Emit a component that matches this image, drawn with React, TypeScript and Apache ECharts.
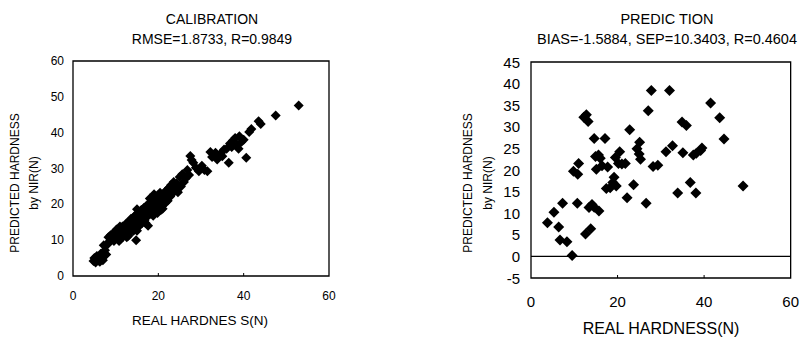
import React, { useEffect, useRef } from "react";
import * as echarts from "echarts";

const calTitle = "CALIBRATION";
const calSub = "RMSE=1.8733, R=0.9849";
const predTitle = "PREDIC TION";
const predSub = "BIAS=-1.5884, SEP=10.3403, R=0.4604";
const yName = "PREDICTED HARDNESS\nby NIR(N)";
const calXName = "REAL HARDNES S(N)";
const predXName = "REAL HARDNESS(N)";

// Calibration set: real hardness, predicted hardness
const calReal = [
  4.8, 5.0, 5.3, 5.6, 6.0, 6.3, 6.5, 6.8, 7.0, 7.2, 7.5, 7.8, 8.0, 8.3, 8.5, 8.8, 9.0, 9.3, 9.6, 9.9,
  10.0, 10.2, 10.5, 10.8, 11.0, 11.2, 11.5, 11.8, 12.0, 12.2, 12.4, 12.6, 12.8, 13.0, 13.2, 13.4, 13.6, 13.8, 14.0, 14.2,
  14.4, 14.6, 14.8, 15.0, 15.2, 15.4, 15.6, 15.8, 16.0, 16.2, 16.4, 16.6, 16.8, 17.0, 17.2, 17.4, 17.6, 17.8, 18.0, 18.2,
  18.4, 18.6, 18.8, 19.0, 19.2, 19.4, 19.6, 19.8, 20.0, 20.2, 20.4, 20.6, 20.8, 21.0, 21.3, 21.6, 21.9, 22.2, 22.5, 22.8,
  23.0, 23.3, 23.6, 24.0, 24.3, 24.6, 25.0, 25.3, 25.6, 26.0, 26.4, 26.8, 27.2, 27.5, 27.8, 28.2, 28.8, 29.5, 30.2, 30.8,
  31.5, 32.2, 32.6, 33.4, 33.8, 34.6, 35.0, 35.4, 36.0, 36.5, 36.8, 37.2, 37.5, 38.0, 38.5, 38.8, 39.0, 39.5, 40.0, 40.6,
  41.3, 41.8, 43.5, 44.0, 47.5, 52.9, 13.5, 14.5, 15.5, 16.5, 17.5, 18.5, 19.5, 20.5, 11.6, 12.5, 9.5, 8.2, 21.5, 22.0,
  11.0, 13.0, 15.0, 17.0, 19.0, 21.0, 18.0, 15.0
];
const calPred = [
  4.2, 5.0, 3.8, 5.6, 4.3, 4.0, 6.2, 5.0, 4.4, 8.6, 7.2, 6.0, 8.8, 10.8, 9.6, 11.4, 10.2, 11.8, 9.8, 12.2,
  10.6, 13.0, 11.4, 9.8, 12.0, 10.4, 12.8, 11.0, 13.6, 12.2, 14.6, 10.8, 13.2, 15.0, 12.0, 14.0, 16.0, 13.4, 15.2, 12.6,
  16.6, 14.4, 10.0, 17.0, 15.4, 13.8, 17.8, 16.2, 18.4, 14.8, 17.2, 19.0, 15.6, 18.0, 19.6, 16.6, 14.0, 18.8, 20.2, 17.4,
  21.0, 19.2, 16.8, 20.6, 22.0, 18.6, 21.4, 17.6, 22.6, 20.0, 23.2, 18.4, 21.6, 19.6, 22.4, 20.4, 23.6, 21.0, 24.6, 22.2,
  25.4, 23.0, 26.2, 24.4, 25.8, 23.4, 27.6, 25.0, 28.4, 26.2, 27.2, 29.6, 28.2, 33.5, 32.4, 31.6, 30.2, 29.2, 30.8, 29.6,
  29.2, 34.6, 33.2, 34.4, 32.5, 34.2, 33.4, 35.3, 35.5, 31.6, 37.0, 36.0, 37.8, 38.5, 36.5, 35.5, 39.0, 37.5, 38.0, 33.0,
  40.2, 41.0, 43.2, 42.4, 44.8, 47.6, 15.6, 16.8, 16.0, 18.0, 18.4, 19.8, 20.4, 21.8, 13.8, 14.0, 11.0, 9.0, 23.4, 24.0,
  13.8, 11.2, 18.6, 14.8, 22.8, 18.8, 21.6, 12.6
];

// Prediction set: real hardness, predicted hardness
const predReal = [
  3.8, 5.3, 7.3, 6.4, 6.7, 8.3, 9.5, 9.8, 10.8, 11.0, 10.7, 12.2, 12.8, 13.2, 12.6, 13.8, 13.4, 14.1, 14.6, 15.7,
  14.6, 17.1, 14.9, 15.6, 16.0, 15.1, 16.4, 17.7, 17.4, 18.3, 19.2, 18.9, 19.7, 19.5, 20.5, 20.2, 21.0, 21.8, 22.2, 22.8,
  23.7, 24.5, 25.1, 25.0, 25.3, 26.6, 27.1, 27.8, 28.2, 29.3, 31.2, 32.0, 32.7, 33.9, 35.1, 34.9, 35.9, 36.8, 37.5, 38.2,
  38.1, 39.2, 39.5, 41.5, 43.6, 44.6, 49.0
];
const predPred = [
  7.8, 10.2, 12.3, 6.8, 3.8, 3.4, 0.2, 19.7, 19.0, 21.5, 12.3, 32.2, 32.8, 31.2, 5.2, 6.4, 11.3, 12.0, 11.4, 10.5,
  27.3, 27.3, 23.1, 23.5, 22.7, 20.2, 21.0, 20.7, 15.7, 15.9, 18.3, 17.1, 16.3, 22.9, 24.2, 21.5, 21.4, 21.5, 13.6, 29.3,
  16.6, 24.9, 26.4, 23.7, 22.5, 12.3, 33.7, 38.4, 20.8, 21.1, 24.2, 38.4, 25.6, 14.7, 24.0, 31.1, 30.3, 17.1, 23.5, 23.9,
  14.7, 24.5, 25.1, 35.5, 32.1, 27.2, 16.3
];

const calTicksX = { min: 0, max: 60, interval: 20 };
const calTicksY = { min: 0, max: 60, interval: 10 };
const predTicksX = { min: 0, max: 60, interval: 20 };
const predTicksY = { min: -5, max: 45, interval: 5 };
const calXTicks = [20, 40];
const predXTicks = [20, 40];

const FONT = "'Liberation Sans', Arial, sans-serif";

export default function App() {
  const ref = useRef<HTMLDivElement>(null);
  useEffect(() => {
    if (!ref.current) return;
    const chart = echarts.init(ref.current, null, { renderer: "svg" });
    const calData = calReal.map((x, i) => [x, calPred[i]]);
    const predData = predReal.map((x, i) => [x, predPred[i]]);
    const textGraphics = [
      {
        id: "yn0", type: "text", x: 24, y: 183, rotation: Math.PI / 2,
        style: { text: yName, fill: "#000", font: "12px " + FONT, textAlign: "center", textVerticalAlign: "middle", lineHeight: 19 },
      },
      {
        id: "yn1", type: "text", x: 478, y: 183, rotation: Math.PI / 2,
        style: { text: yName, fill: "#000", font: "12px " + FONT, textAlign: "center", textVerticalAlign: "middle", lineHeight: 20 },
      },
      {
        id: "xn0", type: "text", x: 200, y: 320,
        style: { text: calXName, fill: "#000", font: "13.5px " + FONT, textAlign: "center", textVerticalAlign: "middle" },
      },
      {
        id: "xn1", type: "text", x: 661, y: 328,
        style: { text: predXName, fill: "#000", font: "16px " + FONT, textAlign: "center", textVerticalAlign: "middle" },
      },
    ];
    chart.setOption({
      animation: false,
      title: [
        {
          text: calTitle + "\n" + calSub,
          left: 207,
          top: 4,
          textAlign: "center",
          textStyle: { fontSize: 14, fontWeight: "normal", color: "#000", fontFamily: FONT, lineHeight: 20, align: "center" },
        },
        {
          text: predTitle + "\n" + predSub,
          left: 662,
          top: 4,
          textAlign: "center",
          textStyle: { fontSize: 14.5, fontWeight: "normal", color: "#000", fontFamily: FONT, lineHeight: 20, align: "center" },
        },
      ],
      grid: [
        { left: 73, right: 473, top: 61, bottom: 61 },
        { left: 531, right: 11, top: 62, bottom: 59 },
      ],
      xAxis: [
        {
          gridIndex: 0, type: "value", ...calTicksX,
          axisLine: { show: false }, splitLine: { show: false }, axisTick: { show: false },
          axisLabel: { color: "#000", fontSize: 12, margin: 14, fontFamily: FONT },
        },
        {
          gridIndex: 1, type: "value", ...predTicksX,
          axisLine: { show: false }, splitLine: { show: false }, axisTick: { show: false },
          axisLabel: { color: "#000", fontSize: 15, margin: 16, fontFamily: FONT },
        },
      ],
      yAxis: [
        {
          gridIndex: 0, type: "value", ...calTicksY,
          axisLine: { show: false }, splitLine: { show: false }, axisTick: { show: false },
          axisLabel: { color: "#000", fontSize: 12, margin: 9, fontFamily: FONT },
        },
        {
          gridIndex: 1, type: "value", ...predTicksY,
          axisLine: { show: false }, splitLine: { show: false }, axisTick: { show: false },
          axisLabel: { color: "#000", fontSize: 15, margin: 11, fontFamily: FONT },
        },
      ],
      graphic: textGraphics,
      series: [
        {
          type: "scatter", xAxisIndex: 0, yAxisIndex: 0, data: calData, z: 3,
          symbol: "diamond", symbolSize: 10, itemStyle: { color: "#000", opacity: 1 },
        },
        {
          type: "scatter", xAxisIndex: 1, yAxisIndex: 1, data: predData, z: 3,
          symbol: "diamond", symbolSize: 11, itemStyle: { color: "#000", opacity: 1 },
        },
      ],
    });

    // Frames, zero line and bottom ticks placed through the axes' own scales
    const frames: any[] = [];
    const addFrame = (idx: number, tx: any, ty: any, ticks: number[], zeroLine: boolean) => {
      const finder = { xAxisIndex: idx, yAxisIndex: idx };
      const tl = chart.convertToPixel(finder, [tx.min, ty.max]) as number[];
      const br = chart.convertToPixel(finder, [tx.max, ty.min]) as number[];
      if (!tl || !br) return;
      frames.push({
        id: "frame" + idx, type: "rect", z: 50, silent: true,
        shape: { x: tl[0], y: tl[1], width: br[0] - tl[0], height: br[1] - tl[1] },
        style: { fill: "none", stroke: "#000", lineWidth: 1.3 },
      });
      ticks.forEach((t, k) => {
        const p = chart.convertToPixel(finder, [t, ty.min]) as number[];
        frames.push({
          id: "tick" + idx + "_" + k, type: "line", z: 50, silent: true,
          shape: { x1: p[0], y1: p[1], x2: p[0], y2: p[1] - 3 },
          style: { stroke: "#000", lineWidth: 1 },
        });
      });
      if (zeroLine) {
        const z0 = chart.convertToPixel(finder, [tx.min, 0]) as number[];
        const z1 = chart.convertToPixel(finder, [tx.max, 0]) as number[];
        frames.push({
          id: "zero" + idx, type: "line", z: 50, silent: true,
          shape: { x1: z0[0], y1: z0[1], x2: z1[0], y2: z1[1] },
          style: { stroke: "#000", lineWidth: 1.3 },
        });
      }
    };
    addFrame(0, calTicksX, calTicksY, calXTicks, false);
    addFrame(1, predTicksX, predTicksY, predXTicks, true);
    chart.setOption({ graphic: [...textGraphics, ...frames] });

    return () => chart.dispose();
  }, []);
  return <div ref={ref} style={{ width: 802, height: 337, position: "absolute", left: 0, top: 0 }} />;
}
